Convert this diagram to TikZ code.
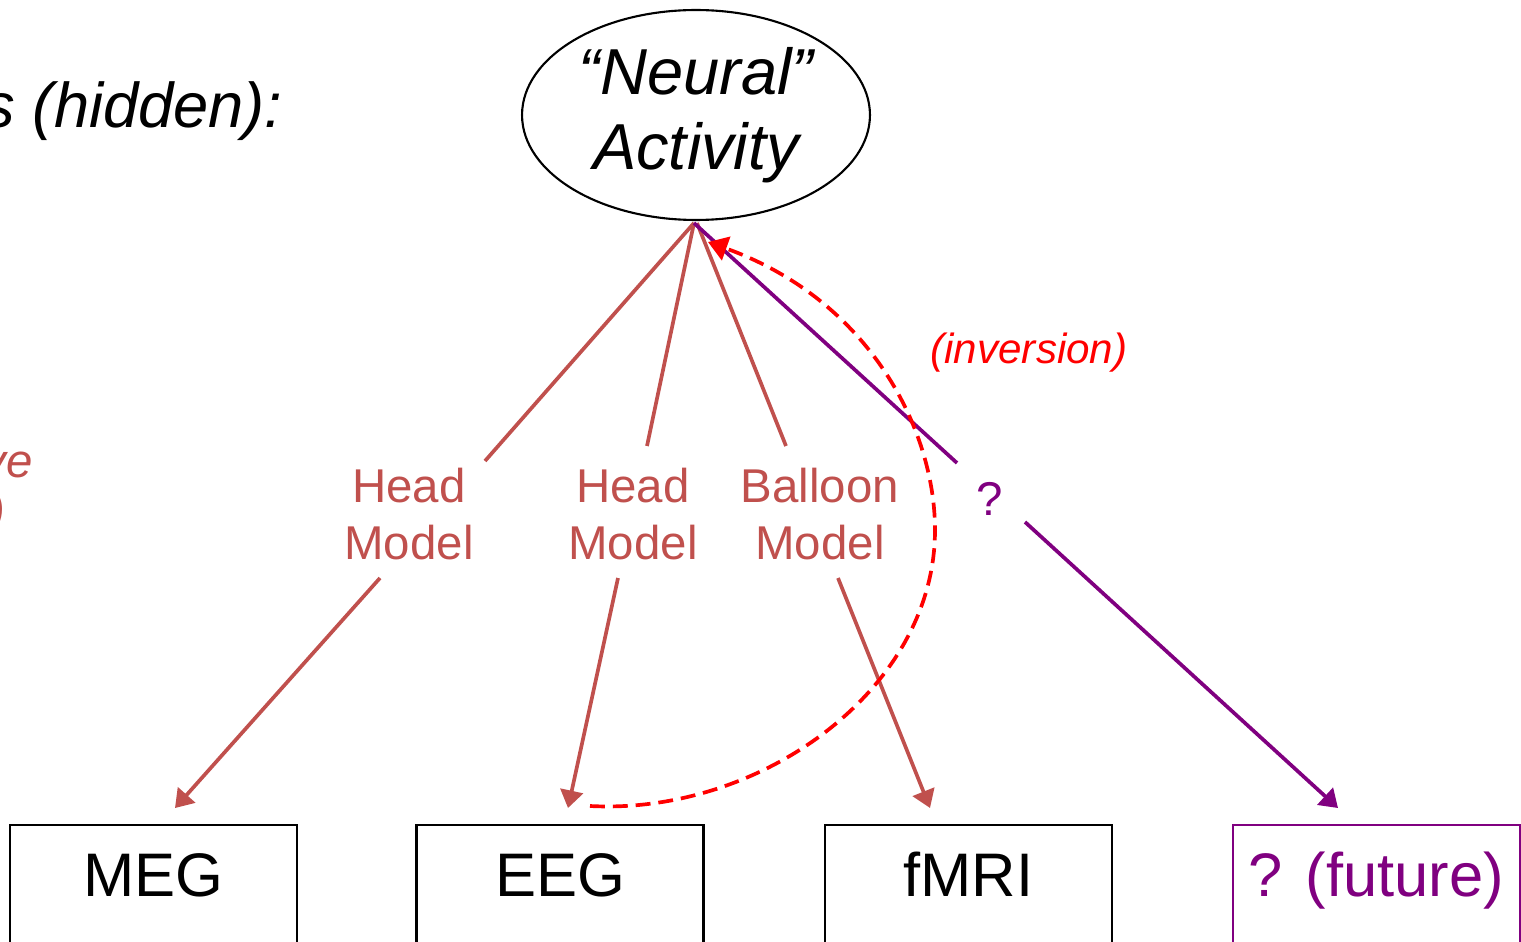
\documentclass[tikz,border=0pt]{standalone}
\usepackage{fontspec}
\setmainfont{Liberation Sans}
\usetikzlibrary{shapes.geometric,arrows.meta}
\definecolor{brn}{RGB}{192,80,77}
\definecolor{purp}{RGB}{128,0,128}
\begin{document}
\begin{tikzpicture}[x=0.02cm,y=-0.02cm,
  link/.style={brn,line width=2.1pt},
  plink/.style={purp,line width=2.1pt},
  tip/.style={-{Triangle[length=10pt,width=13pt]}},
  lbl/.style={brn,align=center,inner sep=0pt,font=\fontsize{27}{32}\selectfont},
  box/.style={draw,line width=1.2pt,minimum width=5.74cm,inner xsep=0pt,inner ysep=0pt,
    text height=1.42cm,text depth=1.6cm,anchor=north,font=\fontsize{35}{40}\selectfont}]
\clip (0,0) rectangle (1521,942);
% hidden-state ellipse
\node[draw,line width=1.2pt,ellipse,minimum width=6.96cm,minimum height=4.2cm,inner sep=0pt,
  align=center,font=\fontsize{37}{42.5}\selectfont\itshape] (na) at (696,115) {“Neural”\\Activity};
\node[anchor=base east,inner sep=0pt,font=\fontsize{36}{42}\selectfont\itshape] (hid) at (283,128) {s (hidden):};
\node[anchor=base east,inner sep=0pt,brn,font=\fontsize{27}{32}\selectfont\itshape] (ve) at (33,477) {ve};
\node[anchor=base east,inner sep=0pt,brn,font=\fontsize{27}{32}\selectfont\itshape] (par) at (6,527) {)};
% model labels
\node[lbl] (hm1) at (409,514) {Head\\Model};
\node[lbl] (hm2) at (633,514) {Head\\Model};
\node[lbl] (bm) at (820,514) {Balloon\\Model};
\node[purp,inner sep=0pt,font=\fontsize{27}{30}\selectfont] (q) at (990,499) {?};
\node[red,inner sep=0pt,font=\fontsize{24}{26}\selectfont\itshape] (inv) at (1029,353) {(inversion)};
% observation boxes
\node[box] (meg) at (153.5,824) {MEG};
\node[box] (eeg) at (560,824) {EEG};
\node[box] (fmri) at (968.5,824) {fMRI};
\node[box,draw=purp,text=purp] (fut) at (1376.5,824) {? (future)};
% connector coordinates
\coordinate (apex) at (694,223);
\coordinate (a1) at (485,461); \coordinate (b1) at (380,578); \coordinate (t1) at (175,808);
\coordinate (a2) at (647,446); \coordinate (b2) at (618,578); \coordinate (t2) at (568,808);
\coordinate (a3) at (786,446); \coordinate (b3) at (838,578); \coordinate (t3) at (930,808);
\coordinate (a4) at (957,463); \coordinate (b4) at (1025,522); \coordinate (t4) at (1338,808);
\coordinate (d0) at (590,806); \coordinate (dm) at (935,530); \coordinate (d1) at (708,242);
% links
\draw[link] (apex) -- (a1); \draw[link,tip] (b1) -- (t1);
\draw[link] (apex) -- (a2); \draw[link,tip] (b2) -- (t2);
\draw[link] (697,223) -- (a3); \draw[link,tip] (b3) -- (t3);
\draw[plink] (apex) -- (a4); \draw[plink,tip] (b4) -- (t4);
% inversion arrow
\draw[red,line width=2.1pt,dash pattern=on 8.5pt off 4.5pt,-{Triangle[length=11pt,width=14pt]}]
  (d0) .. controls (760,815) and (935,690) .. (dm) .. controls (935,430) and (870,300) .. (d1);
\end{tikzpicture}
\end{document}
